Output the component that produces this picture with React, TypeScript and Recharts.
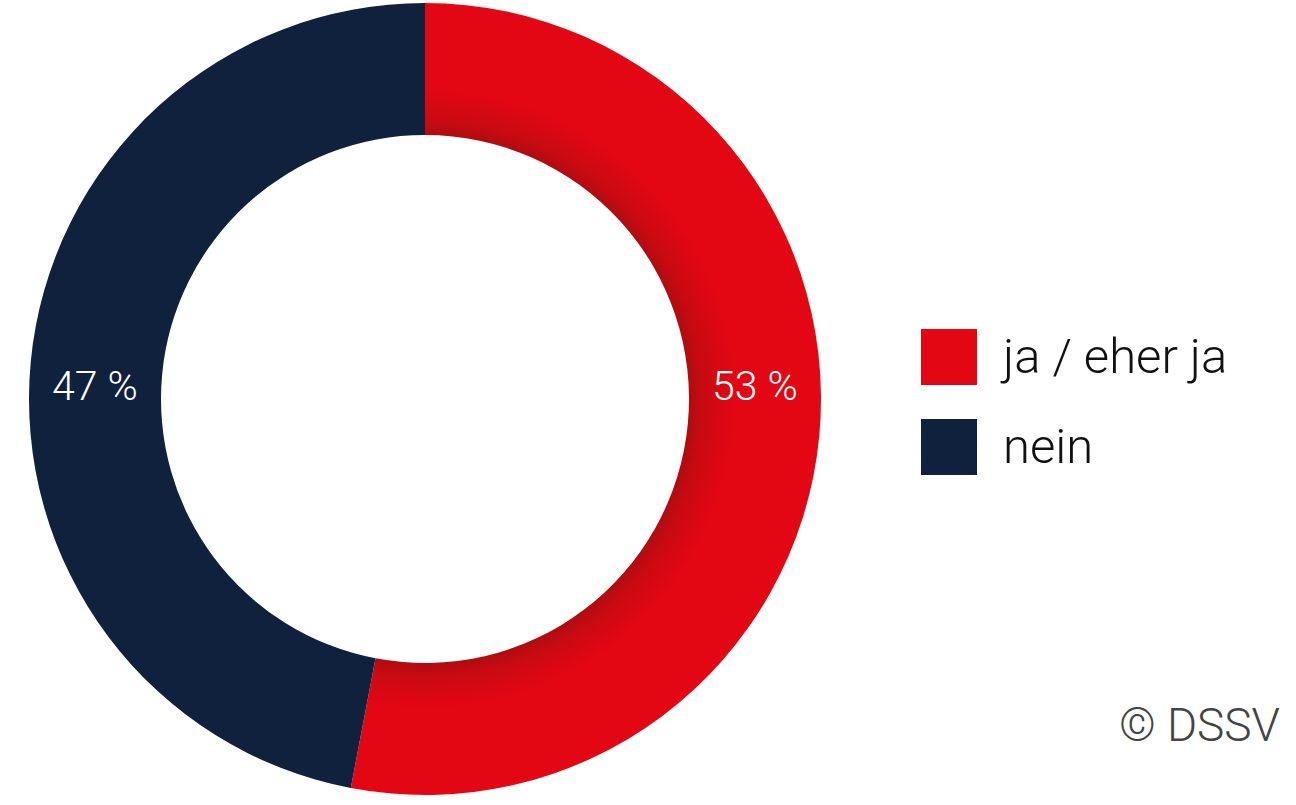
import { Cell, Legend, Pie, PieChart } from "recharts";

const CATEGORIES = ["ja / eher ja", "nein"];
const SHARES = [53, 47];
const COLORS = ["#e30613", "#0f213c"];

const data = CATEGORIES.map((name, i) => ({ name, value: SHARES[i] }));

const CX = 425;
const CY = 399;
const INNER = 264;
const OUTER = 396;

// labels sit on the horizontal axis of the ring, right for the first slice, left for the second
function renderLabel(props: any) {
  const { cx, cy, innerRadius, outerRadius, index, value } = props;
  const r = (innerRadius + outerRadius) / 2;
  const x = index === 0 ? cx + r : cx - r;
  return (
    <text
      x={x}
      y={cy - 13}
      fill="#ffffff"
      textAnchor="middle"
      dominantBaseline="central"
      fontFamily="Roboto"
      fontWeight={300}
      fontSize={41}
    >
      {`${value} %`}
    </text>
  );
}

function LegendBox() {
  return (
    <div style={{ fontFamily: "Roboto", fontWeight: 300 }}>
      {CATEGORIES.map((name, i) => (
        <div
          key={name}
          style={{ display: "flex", alignItems: "center", height: 56, marginBottom: i === 0 ? 34 : 0 }}
        >
          <span style={{ width: 56, height: 56, background: COLORS[i], display: "inline-block" }} />
          <span style={{ marginLeft: 26, fontSize: 49, color: "#111", lineHeight: "56px" }}>{name}</span>
        </div>
      ))}
    </div>
  );
}

export default function App() {
  return (
    <div style={{ position: "absolute", left: 0, top: 0, width: 1296, height: 805, background: "#fff" }}>
      <PieChart width={1296} height={805} margin={{ top: 0, right: 0, bottom: 0, left: 0 }}>
        <defs>
          <radialGradient id="redShade" gradientUnits="userSpaceOnUse" cx={CX} cy={CY} r={OUTER}>
            <stop offset="0.66" stopColor="#a80d10" />
            <stop offset="0.7" stopColor="#c80b12" />
            <stop offset="0.78" stopColor="#e30613" />
            <stop offset="1" stopColor="#e30613" />
          </radialGradient>
        </defs>
        <Pie
          data={data}
          dataKey="value"
          nameKey="name"
          cx={CX}
          cy={CY}
          innerRadius={INNER}
          outerRadius={OUTER}
          startAngle={90}
          endAngle={-270}
          stroke="none"
          label={renderLabel}
          labelLine={false}
          isAnimationActive={false}
        >
          {data.map((d, i) => (
            <Cell key={d.name} fill={i === 0 ? "url(#redShade)" : COLORS[i]} />
          ))}
        </Pie>
        <Legend layout="vertical" content={<LegendBox />} wrapperStyle={{ left: 921, top: 329, width: 370 }} />
      </PieChart>
      <div
        style={{
          position: "absolute",
          right: 16,
          top: 698,
          fontFamily: "Roboto",
          fontWeight: 300,
          fontSize: 46,
          color: "#444",
        }}
      >
        © DSSV
      </div>
    </div>
  );
}
